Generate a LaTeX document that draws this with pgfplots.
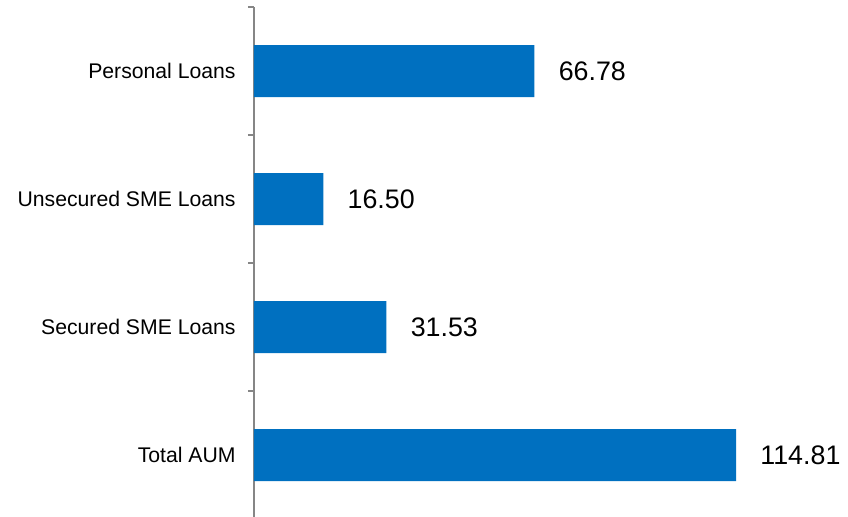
\documentclass[border=0pt]{standalone}
\usepackage{pgfplots}
\pgfplotsset{compat=1.18}
\usepackage{fontspec}
\setmainfont{Liberation Sans}
\definecolor{barblue}{HTML}{0070C0}
\definecolor{axgray}{HTML}{868686}
\begin{document}
\begin{tikzpicture}
\begin{axis}[
  name=ax,
  scale only axis,
  width=293.9pt, height=256pt,
  xmin=0, xmax=140,
  ymin=-0.5, ymax=3.5,
  xbar, bar width=26pt,
  hide x axis,
  axis y line*=left,
  y axis line style={draw=axgray, line width=1pt},
  ytick={-0.5,0.5,1.5,2.5,3.5},
  yticklabels={},
  tick align=outside,
  major tick length=3pt,
  tick style={draw=axgray, line width=0.8pt},
  extra y ticks={0,1,2,3},
  extra y tick labels={Total AUM, Secured SME Loans, Unsecured SME Loans, Personal Loans},
  extra y tick style={major tick length=0pt, tick style={draw=none},
    yticklabel style={font=\fontsize{10.6}{12}\selectfont, inner sep=0pt, xshift=-9pt}},
  nodes near coords,
  nodes near coords style={font=\fontsize{13.4}{15}\selectfont, anchor=west, inner sep=0pt, xshift=12pt, text=black,
    /pgf/number format/.cd, fixed, fixed zerofill, precision=2, assume math mode=true},
  point meta=explicit,
  clip=false,
]
\addplot[fill=barblue, draw=none] table[meta index=2] {
x y m
114.81 0 114.81
31.53 1 31.53
16.50 2 16.50
66.78 3 66.78
};
\end{axis}
\pgfresetboundingbox
\path[use as bounding box] ([xshift=-127pt,yshift=3.5pt]ax.north west) rectangle ([xshift=297pt,yshift=-254.5pt]ax.north west);
\end{tikzpicture}
\end{document}
